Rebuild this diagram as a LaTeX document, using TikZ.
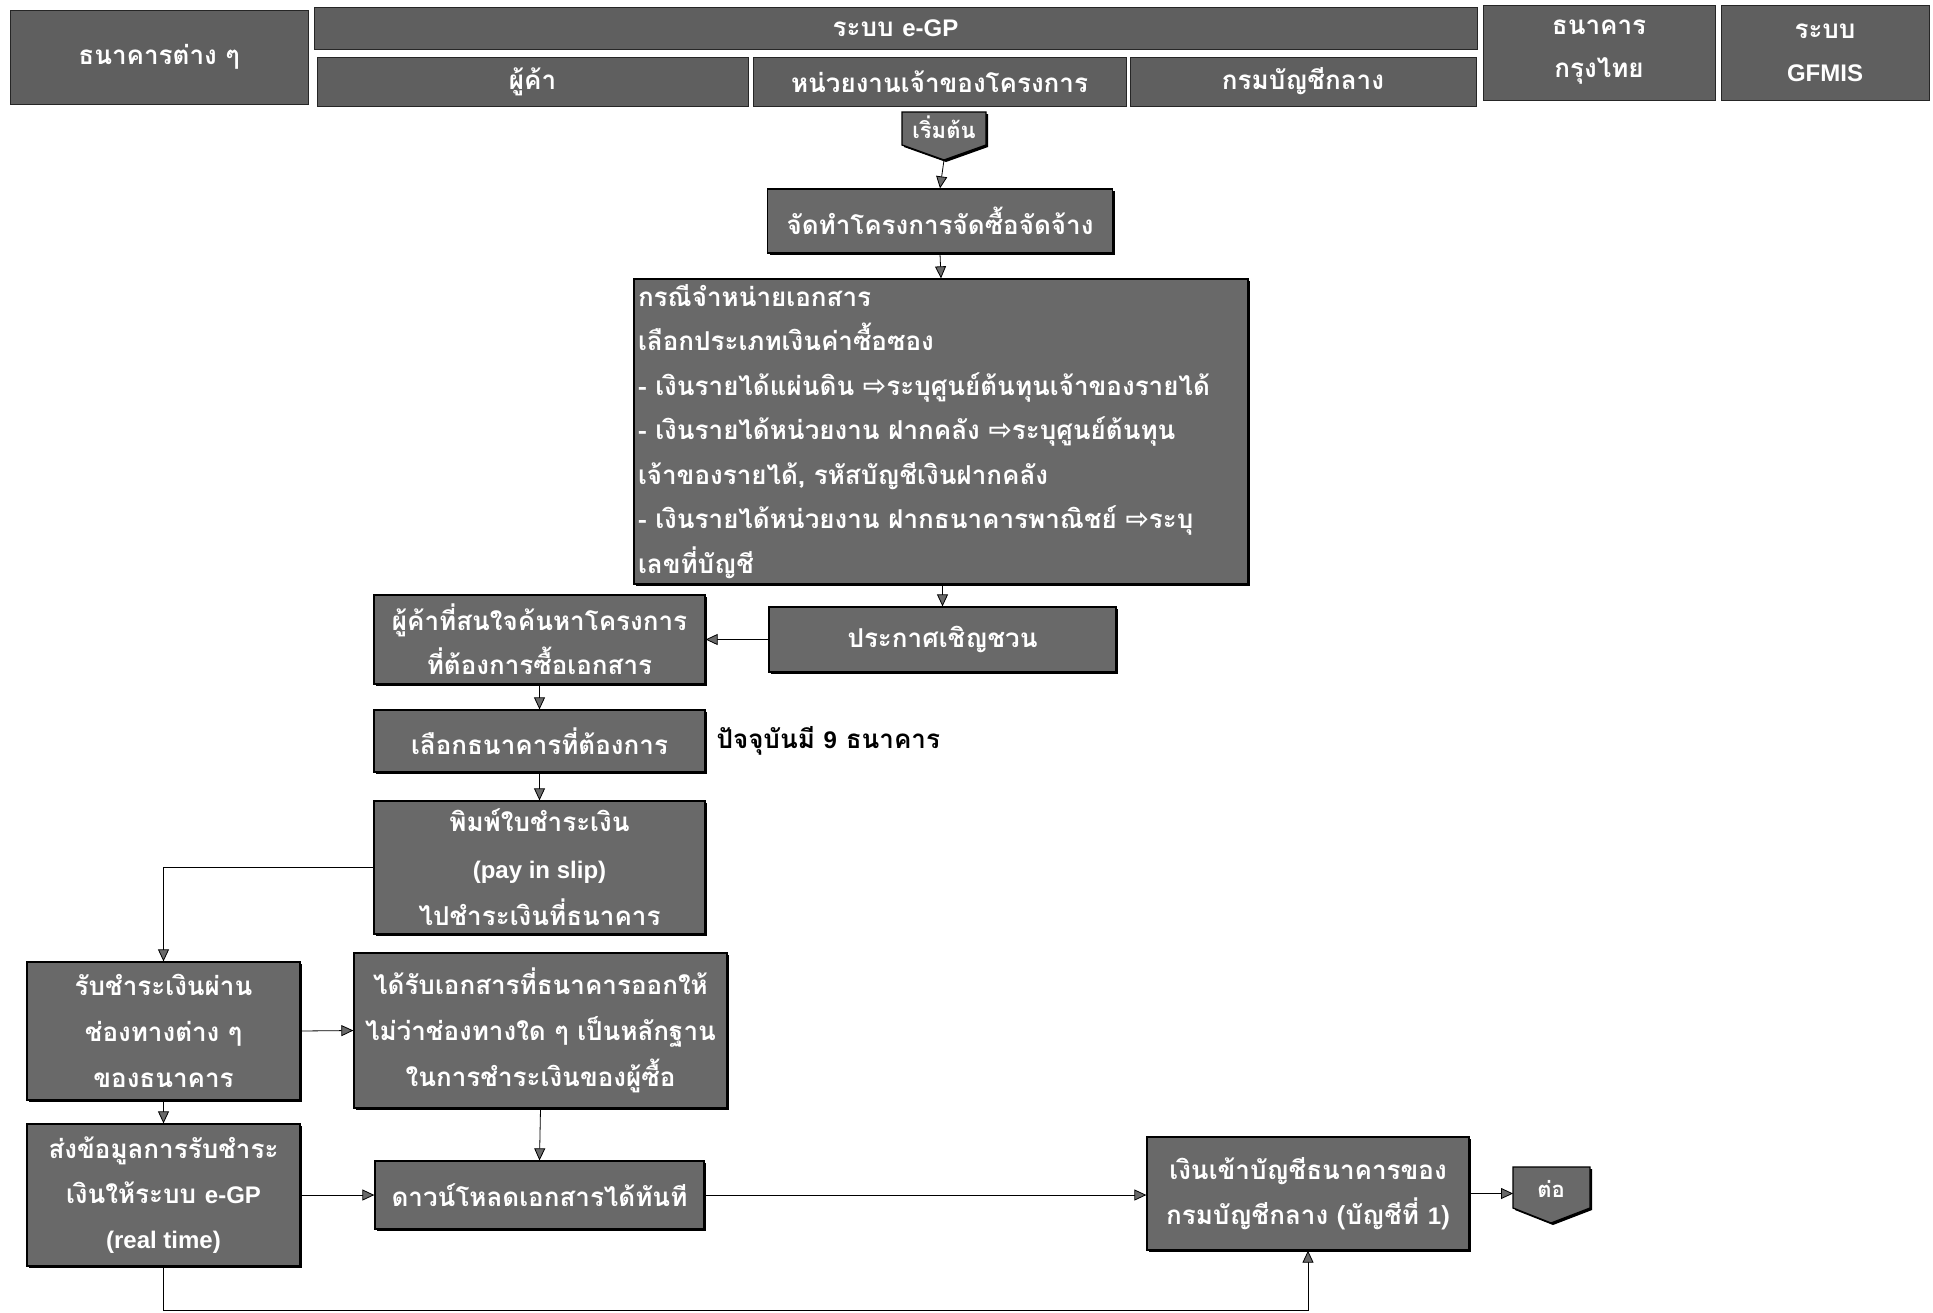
\documentclass[tikz,border=0pt]{standalone}
\usepackage{fontspec}
\newfontfamily\thaifont[Script=Thai]{Loma}
\newfontfamily\dejavu{DejaVu Sans}
\newfontfamily\latinfont{Liberation Sans}
\usetikzlibrary{arrows.meta,shadows}
\definecolor{boxgray}{RGB}{105,105,105}
\definecolor{hdrgray}{RGB}{95,95,95}
\newcommand{\ra}{{\dejavu\bfseries\fontsize{28}{30}\selectfont ⇨}}
\newcommand{\lt}[1]{{\latinfont\bfseries\fontsize{24}{26}\selectfont #1}}
\begin{document}
\begin{tikzpicture}[x=1pt,y=-1pt,
  box/.style={draw=black, line width=1.3pt, fill=boxgray, text=white, align=center,
    font=\thaifont\bfseries\fontsize{26}{44}\selectfont, inner sep=1pt,
    drop shadow={shadow xshift=2pt, shadow yshift=-2pt, fill=black, opacity=1}},
  hdr/.style={draw=black!85, line width=0.8pt, fill=hdrgray, text=white, align=center,
    font=\thaifont\bfseries\fontsize{26}{43}\selectfont, inner sep=1pt},
  pent/.style={draw=black, line width=1.3pt, fill=boxgray},
  arr/.style={draw=black, line width=0.8pt, -{Triangle[length=12pt,width=11pt,fill=boxgray]}},
  conn/.style={draw=black, line width=0.8pt}]
\useasboundingbox (0,0) rectangle (1933,1312);

% header
\node[hdr, minimum width=298, minimum height=94] (bank) at (159,57) {ธนาคารต่าง ๆ};
\node[hdr, minimum width=1163, minimum height=42] (egp) at (895.5,28) {ระบบ \lt{e-GP}};
\node[hdr, minimum width=431, minimum height=49] (supp) at (532.5,81.5) {ผู้ค้า};
\node[hdr, minimum width=373, minimum height=49] (agency) at (939.5,81.5) {หน่วยงานเจ้าของโครงการ};
\node[hdr, minimum width=346, minimum height=49] (cgd) at (1303,81.5) {กรมบัญชีกลาง};
\node[hdr, minimum width=232, minimum height=95] (ktb) at (1599,52.5) {ธนาคาร\\กรุงไทย};
\node[hdr, minimum width=208, minimum height=95] (gfmis) at (1825,52.5) {ระบบ\\\lt{GFMIS}};

% start pentagon
\path[pent, drop shadow={shadow xshift=2pt, shadow yshift=-2pt, fill=black, opacity=1}]
  (902,112) -- (986,112) -- (986,145) -- (944,160) -- (902,145) -- cycle;
\node[text=white, font=\thaifont\bfseries\fontsize{22}{24}\selectfont] (start) at (944,127) {เริ่มต้น};
\coordinate (starttip) at (944,160);

\node[box, minimum width=345, minimum height=64] (make) at (940,221) {จัดทำโครงการจัดซื้อจัดจ้าง};

\node[box, minimum width=614, minimum height=305, text width=606, align=left,
  font=\thaifont\bfseries\fontsize{26}{44.5}\selectfont] (big) at (941,431.5)
  {กรณีจำหน่ายเอกสาร\\
   เลือกประเภทเงินค่าซื้อซอง\\
   - เงินรายได้แผ่นดิน \ra ระบุศูนย์ต้นทุนเจ้าของรายได้\\
   - เงินรายได้หน่วยงาน ฝากคลัง \ra ระบุศูนย์ต้นทุน\\
   เจ้าของรายได้, รหัสบัญชีเงินฝากคลัง\\
   - เงินรายได้หน่วยงาน ฝากธนาคารพาณิชย์ \ra ระบุ\\
   เลขที่บัญชี};

\node[box, minimum width=347, minimum height=65] (announce) at (942.5,639.5) {ประกาศเชิญชวน};
\node[box, minimum width=331, minimum height=89] (interest) at (539.5,639.5) {ผู้ค้าที่สนใจค้นหาโครงการ\\ที่ต้องการซื้อเอกสาร};
\node[box, minimum width=331, minimum height=62] (choose) at (539.5,741) {เลือกธนาคารที่ต้องการ};
\node[anchor=west, font=\thaifont\bfseries\fontsize{26}{30}\selectfont] (note) at (713,741) {ปัจจุบันมี \lt{9} ธนาคาร};
\node[box, minimum width=331, minimum height=133, font=\thaifont\bfseries\fontsize{26}{47}\selectfont] (print) at (539.5,867.5) {พิมพ์ใบชำระเงิน\\\lt{(pay in slip)}\\ไปชำระเงินที่ธนาคาร};

\node[box, minimum width=273, minimum height=138, font=\thaifont\bfseries\fontsize{26}{46}\selectfont] (receive) at (163.5,1031) {รับชำระเงินผ่าน\\ช่องทางต่าง ๆ\\ของธนาคาร};
\node[box, minimum width=373, minimum height=155, font=\thaifont\bfseries\fontsize{26}{46}\selectfont] (gotdoc) at (540.5,1030.5) {ได้รับเอกสารที่ธนาคารออกให้\\ไม่ว่าช่องทางใด ๆ เป็นหลักฐาน\\ในการชำระเงินของผู้ซื้อ};
\node[box, minimum width=273, minimum height=142, font=\thaifont\bfseries\fontsize{26}{45}\selectfont] (send) at (163.5,1195) {ส่งข้อมูลการรับชำระ\\เงินให้ระบบ \lt{e-GP}\\\lt{(real time)}};
\node[box, minimum width=329, minimum height=68] (download) at (539.5,1195) {ดาวน์โหลดเอกสารได้ทันที};
\node[box, minimum width=322, minimum height=113, font=\thaifont\bfseries\fontsize{26}{45}\selectfont] (money) at (1308,1193.5) {เงินเข้าบัญชีธนาคารของ\\กรมบัญชีกลาง (บัญชีที่ \lt{1})};

% continue pentagon
\path[pent, drop shadow={shadow xshift=2pt, shadow yshift=-2pt, fill=black, opacity=1}]
  (1513,1167) -- (1590,1167) -- (1590,1208) -- (1551,1223) -- (1513,1208) -- cycle;
\node[text=white, font=\thaifont\bfseries\fontsize{22}{24}\selectfont] (cont) at (1551,1189) {ต่อ};
\coordinate (contw) at (1513,1193.5);

% connectors
\draw[arr] (starttip) -- (make.north);
\draw[arr] (make.south) -- (big.north);
\draw[arr] (big.south -| announce.north) -- (announce.north);
\draw[arr] (announce.west) -- (interest.east);
\draw[arr] (interest.south) -- (choose.north);
\draw[arr] (choose.south) -- (print.north);
\draw[arr] (print.west) -| (receive.north);
\draw[arr] (receive.east) -- (gotdoc.west);
\draw[arr] (receive.south) -- (send.north);
\draw[arr] (gotdoc.south) -- (download.north);
\draw[arr] (send.east) -- (download.west);
\draw[arr] (download.east) -- (download.east -| money.west);
\draw[arr] (money.east) -- (contw);
\coordinate (bot) at (163.5,1310);
\draw[arr] (send.south) -- (bot) -| (money.south);
\end{tikzpicture}
\end{document}
